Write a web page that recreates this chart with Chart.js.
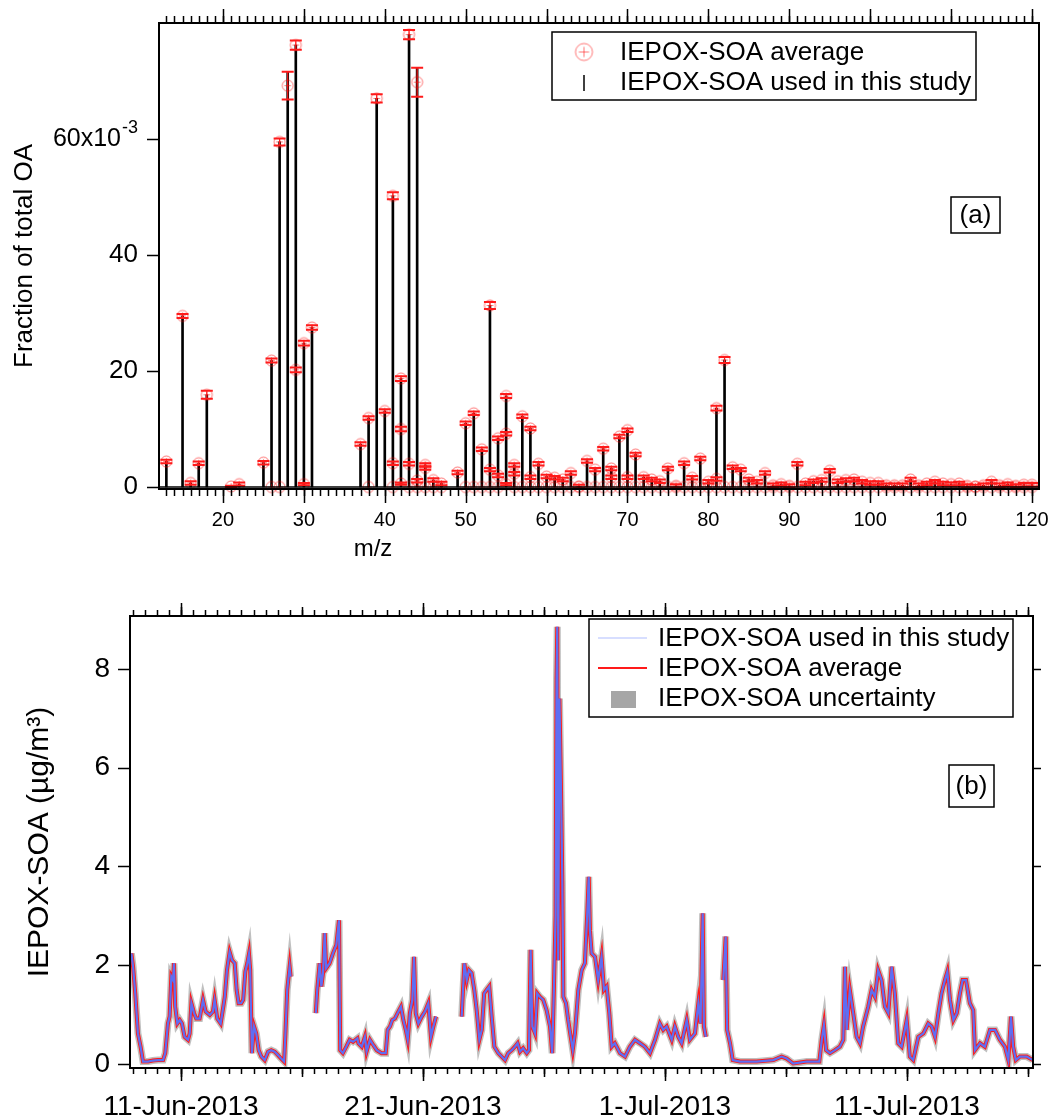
<!DOCTYPE html>
<html>
<head>
<meta charset="utf-8">
<script src="https://cdn.jsdelivr.net/npm/chart.js@4.4.1/dist/chart.umd.min.js"></script>
<style>
  body { margin: 0; background: #fff; }
  #wrap { position: relative; width: 1059px; height: 1118px; }
  #specChart { position: absolute; left: 0; top: 0; }
  #tsChart { position: absolute; left: 0; top: 560px; }
</style>
</head>
<body>
<div id="wrap">
  <canvas id="specChart" width="1059" height="560"></canvas>
  <canvas id="tsChart" width="1059" height="558"></canvas>
</div>
<script>
// ---- (a) mass spectrum: m/z and fraction of total OA (x10^-3) ----
const mzUsed = [13, 15, 16, 17, 18, 22, 25,
  26, 27, 28, 29, 30, 31,
  37, 38, 39, 40, 41, 42, 43, 44, 45, 46, 47,
  49, 50, 51, 52, 53, 54, 55, 56, 57, 58, 59,
  60, 61, 62, 63, 64, 65, 66, 67, 68, 69,
  70, 71, 72, 73, 74, 75, 76, 77, 78, 79,
  80, 81, 82, 83, 84, 85, 86, 87, 88, 89,
  90, 91, 92, 93, 94, 95, 96, 97, 98, 99,
  100, 101, 102, 103, 104, 105, 106, 107, 108, 109,
  110, 111, 112, 113, 114, 115, 116, 117, 118, 119, 120];
const fracUsed = [4.4, 29.5, 0.7, 4.1, 15.9, 0.5, 4.2,
  21.8, 59.5, 71.6, 76.2, 24.8, 27.5,
  7.4, 11.9, 67.0, 13.1, 50.2, 18.7, 78.0, 72.3, 3.8, 1.2, 0.6,
  2.5, 11.0, 12.7, 6.5, 31.3, 8.4, 15.7, 3.8, 12.2, 10.1, 4.0,
  1.8, 1.6, 1.3, 2.4, 0.1, 4.5, 3.0, 6.6, 3.2, 8.7,
  9.8, 5.6, 1.7, 1.3, 1.0, 3.2, 0.2, 4.1, 1.6, 4.9,
  0.9, 13.6, 21.9, 3.4, 3.0, 1.3, 0.9, 2.4, 0.3, 0.5,
  0.2, 4.0, 0.6, 1.0, 1.2, 2.8, 1.0, 1.2, 1.3, 0.9,
  0.7, 0.7, 0.3, 0.3, 0.3, 1.3, 0.3, 0.6, 0.9, 0.6,
  0.5, 0.6, 0.2, 0.1, 0.3, 0.9, 0.3, 0.5, 0.2, 0.4, 0.4];
const avgFrac = [4.4, 29.5, 0.7, 4.1, 15.9, 0.5, 4.2,
  21.8, 59.5, 69.2, 76.2, 24.8, 27.5,
  7.4, 11.9, 67.0, 13.1, 50.2, 18.7, 78.0, 69.8, 3.8, 1.2, 0.6,
  2.5, 11.0, 12.7, 6.5, 31.3, 8.4, 15.7, 3.8, 12.2, 10.1, 4.0,
  1.8, 1.6, 1.3, 2.4, 0.1, 4.5, 3.0, 6.6, 3.2, 8.7,
  9.8, 5.6, 1.7, 1.3, 1.0, 3.2, 0.2, 4.1, 1.6, 4.9,
  0.9, 13.6, 21.9, 3.4, 3.0, 1.3, 0.9, 2.4, 0.3, 0.5,
  0.2, 4.0, 0.6, 1.0, 1.2, 2.8, 1.0, 1.2, 1.3, 0.9,
  0.7, 0.7, 0.3, 0.3, 0.3, 1.3, 0.3, 0.6, 0.9, 0.6,
  0.5, 0.6, 0.2, 0.1, 0.3, 0.9, 0.3, 0.5, 0.2, 0.4, 0.4];
const errFrac = [0.3, 0.35, 0.3, 0.3, 0.7, 0.3, 0.3,
  0.35, 0.6, 2.4, 0.8, 0.4, 0.4,
  0.3, 0.3, 0.7, 0.3, 0.6, 0.4, 0.8, 2.5, 0.3, 0.3, 0.3,
  0.3, 0.3, 0.3, 0.3, 0.6, 0.3, 0.35, 0.3, 0.3, 0.3, 0.3,
  0.3, 0.3, 0.3, 0.3, 0.3, 0.3, 0.3, 0.3, 0.3, 0.3,
  0.3, 0.3, 0.3, 0.3, 0.3, 0.3, 0.3, 0.3, 0.3, 0.3,
  0.3, 0.4, 0.5, 0.3, 0.3, 0.3, 0.3, 0.3, 0.3, 0.3,
  0.3, 0.3, 0.3, 0.3, 0.3, 0.3, 0.3, 0.3, 0.3, 0.3,
  0.3, 0.3, 0.3, 0.3, 0.3, 0.3, 0.3, 0.3, 0.3, 0.3,
  0.3, 0.3, 0.3, 0.3, 0.3, 0.3, 0.3, 0.3, 0.3, 0.3, 0.3];
// extra average entries that sit below the stick tops
const extraMz   = [21, 26, 27, 29, 30, 38, 41, 41, 42, 42, 43, 43, 44, 44, 45, 45, 46, 47,
  50, 51, 52, 53, 53, 54, 54, 55, 55, 56, 56, 57, 58, 58, 59, 68, 70, 81];
const extraFrac = [0.1, 0, 0, 20.2, 0.5, 0, 4.1, 0, 10.0, 0.6, 4.0, 0, 1.1, 0, 3.3, 0, 0, 0,
  0, 0, 0, 3.0, 0, 2.0, 0, 9.2, 0.5, 2.3, 0, 0, 1.7, 0, 0, 1.7, 1.7, 1.4];
const extraErr  = [0.1, 0, 0, 0.4, 0.2, 0, 0.3, 0, 0.4, 0.2, 0.3, 0, 0.3, 0, 0.3, 0, 0, 0,
  0, 0, 0, 0.3, 0, 0.3, 0, 0.3, 0.2, 0.3, 0, 0, 0.3, 0, 0, 0.3, 0.3, 0.3];
// m/z where the average also has an entry at ~0
const zeroMz = [60, 61, 62, 63, 64, 65, 66, 67, 68, 69, 70, 71, 72, 73, 74, 75, 76, 77, 78, 79,
  80, 81, 82, 83, 84, 85, 86, 87, 88, 89, 90, 91, 92, 93, 94, 95, 96, 97, 98, 99,
  100, 101, 102, 103, 104, 105, 106, 107, 108, 109, 110, 111, 112, 113, 114, 115,
  116, 117, 118, 119, 120];
const mzTicks = [20, 30, 40, 50, 60, 70, 80, 90, 100, 110, 120];
const fracTicks = [0, 20, 40, 60];

// ---- (b) time series: day of June 2013 (31 = 1-Jul) and ug/m3 ----
const tsDay = [
  8.95, 9.02, 9.11, 9.22, 9.33, 9.43, 9.64, 9.84, 10.05, 10.26,
  10.35, 10.46, 10.53, 10.60, 10.67, 10.71, 10.76, 10.85, 10.95, 11.04,
  11.15, 11.29, 11.36, 11.43, 11.54, 11.63, 11.77, 11.91, 12.02, 12.19,
  12.32, 12.39, 12.50, 12.64, 12.74, 12.81, 12.90, 13.01, 13.11, 13.22,
  13.30, 13.38, 13.49, 13.57, 13.66, 13.74, 13.81, 13.86, 13.93, 14.02,
  14.11, 14.21, 14.32, 14.46, 14.60, 14.73, 14.87, 15.01, 15.14, 15.26,
  15.31, 15.39, 15.49, 15.53, 16.00, 16.57, 16.63, 16.73, 16.80, 16.87,
  16.94, 17.00, 17.14, 17.28, 17.42, 17.53, 17.58, 17.69, 17.83, 17.97,
  18.11, 18.29, 18.33, 18.47, 18.60, 18.67, 18.81, 18.95, 19.09, 19.29,
  19.46, 19.54, 19.64, 19.73, 19.84, 19.95, 20.09, 20.19, 20.29, 20.37,
  20.46, 20.56, 20.63, 20.70, 20.81, 20.95, 21.08, 21.22, 21.33, 21.43,
  21.54, 22.00, 22.60, 22.71, 22.81, 22.90, 23.01, 23.12, 23.22, 23.33,
  23.43, 23.53, 23.63, 23.74, 23.84, 23.95, 24.11, 24.25, 24.39, 24.52,
  24.67, 24.80, 24.91, 25.01, 25.14, 25.29, 25.38, 25.45, 25.52, 25.63,
  25.72, 25.83, 25.97, 26.11, 26.25, 26.34, 26.41, 26.48, 26.52, 26.55,
  26.59, 26.64, 26.70, 26.76, 26.80, 26.91, 27.00, 27.19, 27.28, 27.42,
  27.56, 27.69, 27.79, 27.85, 27.90, 27.97, 28.11, 28.24, 28.38, 28.48,
  28.59, 28.70, 28.80, 28.93, 29.14, 29.35, 29.55, 29.76, 29.97, 30.17,
  30.38, 30.59, 30.79, 30.93, 31.07, 31.28, 31.41, 31.55, 31.69, 31.90,
  32.03, 32.24, 32.38, 32.47, 32.56, 32.61, 32.69, 33.00, 33.41, 33.51,
  33.57, 33.69, 33.80, 34.10, 34.79, 35.48, 35.82, 36.03, 36.30, 36.86,
  37.38, 37.48, 37.57, 37.66, 37.82, 38.02, 38.23, 38.37, 38.44, 38.51,
  38.64, 38.78, 38.92, 39.06, 39.19, 39.40, 39.54, 39.68, 39.81, 39.95,
  40.09, 40.23, 40.37, 40.50, 40.64, 40.78, 40.99, 41.12, 41.26, 41.47,
  41.68, 41.88, 42.02, 42.16, 42.30, 42.43, 42.57, 42.67, 42.78, 42.92,
  43.06, 43.19, 43.30, 43.44, 43.60, 43.74, 43.81, 44.02, 44.22, 44.43,
  44.64, 44.84, 45.05, 45.19, 45.30, 45.39, 45.50, 45.67, 45.95, 46.20];
const tsConc = [
  2.24, 1.97, 1.43, 0.62, 0.35, 0.05, 0.05, 0.07, 0.08, 0.08,
  0.22, 0.82, 0.96, 1.77, 1.70, 2.04, 1.16, 0.82, 0.89, 0.82,
  0.55, 0.49, 0.62, 1.23, 1.03, 0.92, 0.92, 1.30, 1.06, 0.99,
  1.06, 1.30, 0.92, 0.82, 1.13, 1.36, 1.90, 2.27, 2.10, 2.04,
  1.50, 1.23, 1.23, 1.30, 1.87, 2.04, 2.23, 1.90, 0.22, 0.76,
  0.62, 0.28, 0.15, 0.08, 0.25, 0.28, 0.25, 0.18, 0.11, 0.05,
  0.55, 1.50, 1.97, 1.77, null, 1.03, 1.50, 2.04, 1.57, 1.84,
  2.65, 1.94, 2.04, 2.24, 2.41, 2.91, 0.28, 0.22, 0.35, 0.49,
  0.45, 0.52, 0.42, 0.35, 0.55, 0.25, 0.49, 0.38, 0.28, 0.22,
  0.22, 0.69, 0.76, 0.89, 0.92, 1.03, 1.16, 0.89, 0.69, 0.49,
  1.03, 1.30, 2.17, 1.03, 0.82, 0.96, 1.06, 1.23, 0.55, 0.76,
  0.96, null, 0.96, 2.04, 1.70, 1.90, 1.84, 1.50, 1.09, 0.49,
  0.69, 1.43, 1.50, 1.57, 0.96, 0.35, 0.22, 0.15, 0.08, 0.22,
  0.28, 0.35, 0.42, 0.25, 0.32, 0.22, 0.28, 2.31, 0.76, 0.62,
  1.43, 1.36, 1.30, 1.09, 0.76, 0.22, 1.50, 3.00, 7.80, 8.85,
  2.10, 7.40, 5.70, 3.70, 1.36, 1.23, 0.89, 0.28, 0.62, 1.50,
  1.90, 2.04, 3.05, 3.79, 2.71, 2.24, 2.17, 1.70, 2.17, 1.50,
  1.57, 1.03, 0.35, 0.42, 0.22, 0.15, 0.35, 0.49, 0.42, 0.35,
  0.22, 0.49, 0.82, 0.69, 0.76, 0.49, 0.76, 0.55, 0.42, 0.89,
  0.49, 0.62, 1.23, 0.82, 3.05, 0.76, 0.55, null, 1.70, 2.58,
  0.69, 0.42, 0.08, 0.05, 0.05, 0.08, 0.15, 0.11, 0.01, 0.05,
  0.05, 0.49, 0.79, 0.28, 0.22, 0.28, 0.35, 0.49, 1.97, 0.69,
  1.50, 1.03, 0.55, 0.42, 0.76, 1.16, 1.50, 1.36, 1.90, 1.70,
  1.16, 1.03, 1.97, 1.43, 0.42, 0.35, 0.89, 0.15, 0.08, 0.55,
  0.62, 0.82, 0.76, 0.55, 1.03, 1.43, 1.70, 1.87, 1.30, 0.89,
  1.03, 1.43, 1.70, 1.70, 1.23, 1.09, 0.28, 0.42, 0.35, 0.69,
  0.69, 0.49, 0.35, 0.08, 0.96, 0.35, 0.08, 0.15, 0.15, 0.08];
const dayTicks = [11, 21, 31, 41];
const concTicks = [0, 2, 4, 6, 8];

const FONT = '"Liberation Sans", Arial, sans-serif';
const RED = '#ff1a1a';

// circle with a plus, like the Igor marker
function makeMarker(r, color) {
    let c = document.createElement('canvas');
    let s = Math.ceil(2 * r + 4);
    c.width = s; c.height = s;
    let g = c.getContext('2d');
    g.strokeStyle = color;
    g.lineWidth = 1;
    g.beginPath(); g.arc(s / 2, s / 2, r, 0, Math.PI * 2); g.stroke();
    g.beginPath();
    g.moveTo(s / 2 - r * 0.6, s / 2); g.lineTo(s / 2 + r * 0.6, s / 2);
    g.moveTo(s / 2, s / 2 - r * 0.6); g.lineTo(s / 2, s / 2 + r * 0.6);
    g.stroke();
    return c;
}
const marker = makeMarker(5.5, 'rgba(255,0,0,0.55)');
const legendMarker = makeMarker(8.5, 'rgba(255,0,0,0.55)');

// tick marks drawn outside the frame
function ticksX(ctx, scale, area, values, len, side) {
    ctx.beginPath();
    values.forEach(v => {
        let px = Math.round(scale.getPixelForValue(v)) + 0.5;
        if (px < area.left - 1 || px > area.right + 1) return;
        let y0 = side === 'bottom' ? area.bottom : area.top;
        let dir = side === 'bottom' ? 1 : -1;
        ctx.moveTo(px, y0);
        ctx.lineTo(px, y0 + dir * len);
    });
    ctx.stroke();
}
function ticksY(ctx, scale, area, values, len, side) {
    ctx.beginPath();
    values.forEach(v => {
        let py = Math.round(scale.getPixelForValue(v)) + 0.5;
        let x0 = side === 'left' ? area.left : area.right;
        let dir = side === 'left' ? -1 : 1;
        ctx.moveTo(x0, py);
        ctx.lineTo(x0 + dir * len, py);
    });
    ctx.stroke();
}
function frame(ctx, area) {
    ctx.strokeStyle = '#000';
    ctx.lineWidth = 2;
    ctx.strokeRect(area.left, area.top, area.right - area.left, area.bottom - area.top);
}

// ---- top chart ----
let avgPoints = mzUsed.map((m, i) => ({ x: m, y: avgFrac[i] }));
extraMz.forEach((m, i) => avgPoints.push({ x: m, y: extraFrac[i] }));
zeroMz.forEach(m => avgPoints.push({ x: m, y: 0 }));

let minorMz = [];
for (let v = 13; v <= 120; v++) minorMz.push(v);

const specDecor = {
    id: 'specDecor',
    afterDatasetsDraw(chart) {
        let ctx = chart.ctx, xs = chart.scales.x, ys = chart.scales.y;
        ctx.save();
        ctx.strokeStyle = RED;
        let bar = (m, v, e) => {
            if (!e) return;
            let px = xs.getPixelForValue(m);
            let p1 = ys.getPixelForValue(v + e), p2 = ys.getPixelForValue(v - e);
            ctx.lineWidth = 1.2;
            ctx.beginPath(); ctx.moveTo(px, p1); ctx.lineTo(px, p2); ctx.stroke();
            ctx.lineWidth = 2;
            ctx.beginPath();
            ctx.moveTo(px - 6, p1); ctx.lineTo(px + 6, p1);
            ctx.moveTo(px - 6, p2); ctx.lineTo(px + 6, p2);
            ctx.stroke();
        };
        mzUsed.forEach((m, i) => bar(m, avgFrac[i], errFrac[i]));
        extraMz.forEach((m, i) => bar(m, extraFrac[i], extraErr[i]));
        ctx.restore();
    },
    afterDraw(chart) {
        let ctx = chart.ctx, a = chart.chartArea, xs = chart.scales.x, ys = chart.scales.y;
        ctx.save();
        frame(ctx, a);
        // zero line
        let y0 = ys.getPixelForValue(0);
        ctx.lineWidth = 1.5;
        ctx.beginPath(); ctx.moveTo(a.left, y0); ctx.lineTo(a.right, y0); ctx.stroke();
        ticksX(ctx, xs, a, minorMz, 7, 'bottom');
        ticksX(ctx, xs, a, minorMz, 7, 'top');
        ticksX(ctx, xs, a, mzTicks, 14, 'bottom');
        ticksX(ctx, xs, a, mzTicks, 14, 'top');
        ticksY(ctx, ys, a, fracTicks, 12, 'left');

        // 60x10^-3 label
        ctx.fillStyle = '#000';
        ctx.textBaseline = 'middle';
        ctx.font = '18px ' + FONT;
        let supW = ctx.measureText('-3').width;
        let p60 = ys.getPixelForValue(60);
        ctx.textAlign = 'left';
        ctx.fillText('-3', 138 - supW, p60 - 11);
        ctx.font = '25px ' + FONT;
        ctx.textAlign = 'right';
        ctx.fillText('60x10', 138 - supW - 1, p60);

        // x axis title
        ctx.font = '24px ' + FONT;
        ctx.textAlign = 'center';
        ctx.fillText('m/z', 373, 549);

        // legend
        ctx.lineWidth = 1.5;
        ctx.strokeRect(552, 32, 424, 68);
        ctx.drawImage(legendMarker, 584 - legendMarker.width / 2, 52 - legendMarker.height / 2);
        ctx.beginPath(); ctx.moveTo(584, 75); ctx.lineTo(584, 91); ctx.stroke();
        ctx.font = '26px ' + FONT;
        ctx.textAlign = 'left';
        ctx.fillText('IEPOX-SOA average', 620, 53);
        ctx.fillText('IEPOX-SOA used in this study', 620, 83);

        // panel label
        ctx.strokeRect(951, 197, 49, 36);
        ctx.textAlign = 'center';
        ctx.fillText('(a)', 975.5, 216);
        ctx.restore();
    }
};

new Chart(document.getElementById('specChart'), {
    type: 'bar',
    data: {
        datasets: [
            {
                type: 'bar',
                label: 'IEPOX-SOA used in this study',
                data: mzUsed.map((m, i) => ({ x: m, y: fracUsed[i] })),
                backgroundColor: '#000',
                barThickness: 2,
                order: 3
            },
            {
                type: 'scatter',
                label: 'IEPOX-SOA average',
                data: avgPoints,
                pointStyle: marker,
                pointRadius: 6,
                clip: false,
                order: 1
            }
        ]
    },
    options: {
        responsive: false,
        animation: false,
        layout: { padding: { left: 0, right: 20, top: 23, bottom: 0 } },
        plugins: { legend: { display: false }, tooltip: { enabled: false } },
        scales: {
            x: {
                type: 'linear',
                offset: false,
                min: 12.09,
                max: 120.87,
                grid: { display: false },
                border: { display: false },
                afterBuildTicks: s => { s.ticks = mzTicks.map(v => ({ value: v })); },
                afterFit: s => { s.height = 71; s.paddingLeft = 0; s.paddingRight = 0; },
                ticks: { color: '#000', font: { family: FONT, size: 20 }, padding: 11, maxRotation: 0, autoSkip: false }
            },
            y: {
                min: -0.34,
                max: 80,
                grid: { display: false },
                border: { display: false },
                afterBuildTicks: s => { s.ticks = fracTicks.map(v => ({ value: v })); },
                afterFit: s => { s.width = 159; s.paddingTop = 0; s.paddingBottom = 0; },
                ticks: {
                    color: '#000', font: { family: FONT, size: 26 }, padding: 13,
                    callback: v => v === 60 ? '' : String(v)
                },
                title: {
                    display: true, text: 'Fraction of total OA', color: '#000',
                    font: { family: FONT, size: 26 }, padding: { top: 9, bottom: 0 }
                }
            }
        }
    },
    plugins: [specDecor]
});

// ---- bottom chart ----
let tsPoints = tsDay.map((d, i) => ({ x: d, y: tsConc[i] }));

let halfDays = [], fiveDays = [];
for (let d = 9; d <= 46.2; d += 0.5) halfDays.push(d);
for (let d = 6; d <= 46; d += 5) fiveDays.push(d);

function dayLabel(v) {
    return v <= 30 ? v + '-Jun-2013' : (v - 30) + '-Jul-2013';
}

const tsDecor = {
    id: 'tsDecor',
    afterDraw(chart) {
        let ctx = chart.ctx, a = chart.chartArea, xs = chart.scales.x, ys = chart.scales.y;
        ctx.save();
        frame(ctx, a);
        ctx.lineWidth = 1.5;
        ticksX(ctx, xs, a, halfDays, 6, 'bottom');
        ticksX(ctx, xs, a, halfDays, 6, 'top');
        ticksX(ctx, xs, a, fiveDays, 9, 'bottom');
        ticksX(ctx, xs, a, fiveDays, 9, 'top');
        ticksX(ctx, xs, a, dayTicks, 13, 'bottom');
        ticksX(ctx, xs, a, dayTicks, 13, 'top');
        ticksY(ctx, ys, a, concTicks, 12, 'left');
        ticksY(ctx, ys, a, concTicks, 8, 'right');

        // legend
        ctx.lineWidth = 1.5;
        ctx.strokeStyle = '#000';
        ctx.strokeRect(589, 59, 424, 98);
        ctx.strokeStyle = 'rgba(110,135,255,0.55)';
        ctx.lineWidth = 1;
        ctx.beginPath(); ctx.moveTo(598, 78); ctx.lineTo(647, 78); ctx.stroke();
        ctx.strokeStyle = RED;
        ctx.lineWidth = 2;
        ctx.beginPath(); ctx.moveTo(598, 108); ctx.lineTo(647, 108); ctx.stroke();
        ctx.fillStyle = '#a6a6a6';
        ctx.fillRect(611, 131, 25, 17);
        ctx.fillStyle = '#000';
        ctx.font = '26px ' + FONT;
        ctx.textAlign = 'left';
        ctx.textBaseline = 'middle';
        ctx.fillText('IEPOX-SOA used in this study', 658, 79);
        ctx.fillText('IEPOX-SOA average', 658, 109);
        ctx.fillText('IEPOX-SOA uncertainty', 658, 139);

        // panel label
        ctx.strokeStyle = '#000';
        ctx.lineWidth = 1.5;
        ctx.strokeRect(949, 205, 45, 42);
        ctx.textAlign = 'center';
        ctx.fillText('(b)', 971.5, 227);
        ctx.restore();
    }
};

new Chart(document.getElementById('tsChart'), {
    type: 'line',
    data: {
        datasets: [
            {
                label: 'IEPOX-SOA used in this study',
                data: tsPoints,
                borderColor: 'rgba(85,115,255,0.95)',
                borderWidth: 2.2,
                pointRadius: 0,
                tension: 0,
                order: 1
            },
            {
                label: 'IEPOX-SOA average',
                data: tsPoints,
                borderColor: RED,
                borderWidth: 4,
                pointRadius: 0,
                tension: 0,
                order: 2
            },
            {
                label: 'IEPOX-SOA uncertainty',
                data: tsPoints,
                borderColor: 'rgba(150,150,150,0.6)',
                borderWidth: 7,
                pointRadius: 0,
                tension: 0,
                order: 3
            }
        ]
    },
    options: {
        responsive: false,
        animation: false,
        layout: { padding: { left: 0, right: 26, top: 56, bottom: 0 } },
        plugins: { legend: { display: false }, tooltip: { enabled: false } },
        scales: {
            x: {
                type: 'linear',
                min: 8.893,
                max: 46.21,
                grid: { display: false },
                border: { display: false },
                afterBuildTicks: s => { s.ticks = dayTicks.map(v => ({ value: v })); },
                afterFit: s => { s.height = 50; s.paddingLeft = 0; s.paddingRight = 0; },
                ticks: {
                    color: '#000', font: { family: FONT, size: 28 }, padding: 14,
                    maxRotation: 0, autoSkip: false, callback: v => dayLabel(v)
                }
            },
            y: {
                min: -0.081,
                max: 9.07,
                grid: { display: false },
                border: { display: false },
                afterBuildTicks: s => { s.ticks = concTicks.map(v => ({ value: v })); },
                afterFit: s => { s.width = 130; s.paddingTop = 0; s.paddingBottom = 0; },
                ticks: { color: '#000', font: { family: FONT, size: 28 }, padding: 12 },
                title: {
                    display: true, text: 'IEPOX-SOA (\u00b5g/m\u00b3)', color: '#000',
                    font: { family: FONT, size: 30 }, padding: { top: 22, bottom: 0 }
                }
            }
        }
    },
    plugins: [tsDecor]
});
</script>
</body>
</html>
